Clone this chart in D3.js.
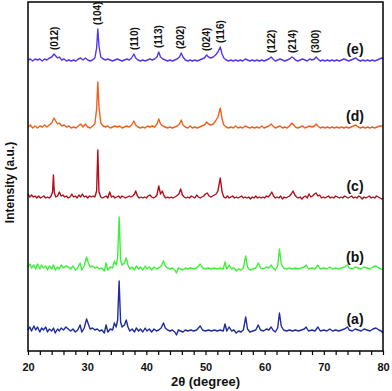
<!DOCTYPE html>
<html>
<head>
<meta charset="utf-8">
<script src="https://cdn.jsdelivr.net/npm/d3@7"></script>
<style>
  body { margin: 0; background: #fff; }
  text { font-family: Arial, "Liberation Sans", sans-serif; font-weight: bold; }
</style>
</head>
<body>
<svg width="392" height="391"></svg>
<script>
// 2theta / relative intensity pairs
const scanA = [[20,0],[20.3,3],[20.6,-1],[21,4],[21.3,0],[21.6,3],[22,-2],[22.3,2],[22.6,0],[23,3],[23.3,-2],[23.6,1],[24,-1],[24.3,2],[24.6,-3],[25,1],[25.3,-1],[25.6,2],[26,0],[26.4,3],[26.8,1],[27.2,-1],[27.6,1],[28,-2],[28.4,0],[28.8,5],[29.1,-2],[29.5,2],[29.9,11],[30.2,6],[30.5,1],[30.9,2],[31.3,0],[31.7,1],[32.1,-1],[32.5,0],[32.9,-3],[33.2,5],[33.5,-2],[33.9,1],[34.3,0],[34.6,7],[34.9,3],[35.15,10],[35.4,49],[35.65,8],[35.9,3],[36.3,5],[36.6,10],[36.9,3],[37.2,-1],[37.6,1],[38,-2],[38.3,2],[38.7,-1],[39,1],[39.4,-2],[39.8,2],[40.1,-1],[40.5,1],[40.9,-2],[41.3,1],[41.7,-1],[42.1,0],[42.5,2],[42.9,7],[43.2,2],[43.6,0],[44,-1],[44.4,0],[44.8,-2],[45.1,-5],[45.4,0],[45.8,-1],[46.2,-2],[46.6,0],[47,-1],[47.5,0],[48,-1],[48.5,0],[49.1,4],[49.5,0],[50,-1],[50.5,0],[51,-1],[51.5,0],[52,-1],[52.5,0],[53,-1],[53.3,6],[53.6,-1],[54,3],[54.4,-1],[54.8,0],[55.2,-3],[55.6,-1],[56,-2],[56.4,0],[56.8,13],[57.1,1],[57.5,-2],[58,-1],[58.5,0],[58.9,5],[59.3,0],[59.8,-1],[60.3,1],[60.7,0],[61.1,3],[61.4,0],[61.8,-2],[62.2,2],[62.5,17],[62.8,4],[63.2,0],[63.7,-1],[64.2,0],[64.7,-1],[65.2,0],[65.7,-1],[66.2,0],[66.7,1],[67,3],[67.4,-1],[68,0],[68.5,-1],[69,3],[69.4,-1],[70,0],[70.5,-1],[71,1],[71.5,-1],[72,0],[72.5,-1],[73,0],[73.5,1],[74,3],[74.3,0],[74.8,-1],[75.3,1],[75.8,0],[76.3,-1],[76.8,1],[77.3,0],[77.8,-1],[78.3,1],[78.8,2],[79.3,0],[79.7,-1],[80,-3]];

const scanB = [[20,1],[20.3,4],[20.6,0],[21,3],[21.3,-1],[21.6,4],[22,-1],[22.3,3],[22.6,0],[23,2],[23.3,-2],[23.6,2],[24,-1],[24.3,3],[24.6,-2],[25,1],[25.3,-1],[25.6,3],[26,0],[26.4,2],[26.8,1],[27.2,-1],[27.6,2],[28,-2],[28.4,0],[28.8,5],[29.1,-2],[29.5,2],[29.9,11],[30.2,5],[30.5,1],[30.9,2],[31.3,0],[31.7,1],[32.1,-1],[32.5,0],[32.9,-3],[33.2,5],[33.5,-2],[33.9,1],[34.3,0],[34.6,7],[34.9,3],[35.15,10],[35.4,51],[35.65,8],[35.9,3],[36.3,5],[36.6,10],[36.9,3],[37.2,-1],[37.6,1],[38,-2],[38.3,2],[38.7,-1],[39,1],[39.4,-2],[39.8,2],[40.1,-1],[40.5,1],[40.9,-2],[41.3,1],[41.7,-1],[42.1,0],[42.5,2],[42.9,7],[43.2,2],[43.6,0],[44,-1],[44.4,0],[44.8,-2],[45.1,-5],[45.4,0],[45.8,-1],[46.2,-2],[46.6,0],[47,-1],[47.5,0],[48,-1],[48.5,0],[49.1,4],[49.5,0],[50,-1],[50.5,0],[51,-1],[51.5,0],[52,-1],[52.5,0],[53,-1],[53.3,6],[53.6,-1],[54,3],[54.4,-1],[54.8,0],[55.2,-3],[55.6,-1],[56,-2],[56.4,0],[56.8,12],[57.1,1],[57.5,-2],[58,-1],[58.5,0],[58.9,5],[59.3,0],[59.8,-1],[60.3,1],[60.7,0],[61.1,3],[61.4,0],[61.8,-2],[62.2,2],[62.5,19],[62.8,4],[63.2,0],[63.7,-1],[64.2,0],[64.7,-1],[65.2,0],[65.7,-1],[66.2,0],[66.7,1],[67,3],[67.4,-1],[68,0],[68.5,-1],[69,3],[69.4,-1],[70,0],[70.5,-1],[71,1],[71.5,-1],[72,0],[72.5,-1],[73,0],[73.5,1],[74,3],[74.3,0],[74.8,-1],[75.3,1],[75.8,0],[76.3,-1],[76.8,1],[77.3,0],[77.8,-1],[78.3,1],[78.8,2],[79.3,0],[79.7,-1],[80,-2]];

const scanC = [[20,3],[20.3,0],[20.6,2],[20.9,0],[21.2,1],[21.5,-1],[21.8,1],[22.1,-1],[22.4,0],[22.7,1],[23,-1],[23.3,0],[23.6,-1],[23.9,1],[24.15,5],[24.3,22],[24.45,4],[24.7,0],[25,1],[25.3,5],[25.6,1],[25.9,2],[26.2,0],[26.5,1],[26.8,-1],[27.1,0],[27.4,3],[27.7,0],[28,1],[28.3,-1],[28.6,2],[28.9,0],[29.2,3],[29.5,0],[29.8,1],[30.1,-1],[30.4,1],[30.7,0],[31,1],[31.3,0],[31.6,6],[31.8,47],[32,5],[32.3,0],[32.6,-1],[32.9,0],[33.2,1],[33.5,-1],[33.8,5],[34.1,0],[34.4,1],[34.7,-1],[35,0],[35.3,1],[35.6,-1],[35.9,1],[36.2,0],[36.5,-1],[36.8,0],[37.1,1],[37.4,0],[37.7,1],[38,3],[38.2,6],[38.5,1],[38.8,-1],[39.1,0],[39.4,-1],[39.7,0],[40,-1],[40.3,1],[40.6,2],[40.9,0],[41.2,-1],[41.5,0],[41.8,2],[42.1,11],[42.4,3],[42.7,6],[43,1],[43.3,-1],[43.6,0],[43.9,-1],[44.2,0],[44.5,-1],[44.8,0],[45.1,1],[45.5,3],[45.8,8],[46.1,2],[46.4,0],[46.7,-1],[47,0],[47.3,-1],[47.6,1],[47.9,0],[48.2,-1],[48.5,2],[48.8,0],[49.1,-1],[49.4,0],[49.7,1],[50,3],[50.3,4],[50.6,1],[50.9,0],[51.2,1],[51.5,2],[51.8,3],[52.1,6],[52.5,19],[52.8,5],[53.1,0],[53.4,-1],[53.7,1],[54,-1],[54.3,0],[54.6,1],[54.9,-1],[55.2,0],[55.5,-1],[55.8,0],[56.1,1],[56.4,-1],[56.7,0],[57,-1],[57.3,0],[57.6,-2],[57.9,0],[58.2,-1],[58.5,1],[58.8,-1],[59.1,0],[59.4,-1],[59.7,0],[60,-1],[60.3,1],[60.6,0],[60.9,2],[61.2,5],[61.5,1],[61.8,-1],[62.1,0],[62.4,-1],[62.7,1],[63,-2],[63.3,0],[63.6,-1],[63.9,0],[64.2,1],[64.5,3],[64.8,6],[65.1,2],[65.4,0],[65.7,-1],[66,0],[66.3,-2],[66.6,0],[66.9,1],[67.2,-1],[67.5,3],[67.8,0],[68.1,1],[68.4,3],[68.7,4],[69,1],[69.3,2],[69.6,-1],[69.9,0],[70.2,-1],[70.5,0],[70.8,1],[71.1,-1],[71.4,0],[71.7,-1],[72,1],[72.3,0],[72.6,-1],[72.9,0],[73.2,-1],[73.5,1],[73.8,0],[74.1,-1],[74.4,0],[74.7,1],[75,-1],[75.3,0],[75.6,-1],[75.9,1],[76.2,0],[76.5,-2],[76.8,0],[77.1,-1],[77.4,0],[77.7,1],[78,-1],[78.3,0],[78.6,-1],[78.9,1],[79.2,0],[79.5,-1],[79.8,-2],[80,-1]];

const scanD = [[20,0],[20.4,2],[20.8,-1],[21.2,1],[21.6,-1],[22,1],[22.4,0],[22.8,2],[23.2,0],[23.6,2],[24,4],[24.4,9],[24.7,6],[25,3],[25.3,4],[25.7,1],[26.1,2],[26.5,0],[26.9,1],[27.3,-1],[27.7,0],[28.1,-1],[28.5,1],[28.9,3],[29.3,0],[29.7,3],[30.1,0],[30.5,-1],[30.9,1],[31.3,3],[31.6,18],[31.8,45],[32,20],[32.3,4],[32.7,1],[33.1,0],[33.5,1],[33.9,-1],[34.3,0],[34.7,1],[35.1,0],[35.5,1],[35.9,-1],[36.3,0],[36.7,1],[37.1,0],[37.5,2],[37.9,6],[38.2,2],[38.6,0],[39,-1],[39.4,0],[39.8,-1],[40.2,1],[40.6,0],[41,1],[41.4,0],[41.8,3],[42.1,8],[42.4,3],[42.8,1],[43.2,0],[43.6,-1],[44,0],[44.4,-1],[44.8,0],[45.2,1],[45.6,3],[45.9,7],[46.2,2],[46.6,0],[47,-1],[47.4,1],[47.8,-1],[48.2,0],[48.6,-1],[49,0],[49.4,1],[49.8,2],[50.2,5],[50.5,3],[50.9,2],[51.3,3],[51.7,6],[52.1,10],[52.5,19],[52.8,8],[53.1,2],[53.5,0],[53.9,-1],[54.3,0],[54.7,-1],[55.1,1],[55.5,-1],[55.9,0],[56.3,-1],[56.7,1],[57.1,0],[57.5,-1],[57.9,0],[58.3,-1],[58.7,0],[59.1,-1],[59.5,1],[59.9,-1],[60.3,0],[60.7,1],[61.1,3],[61.4,1],[61.8,-1],[62.2,0],[62.6,1],[63,-1],[63.4,0],[63.8,-1],[64.2,1],[64.6,4],[64.9,2],[65.2,0],[65.6,-1],[66,0],[66.4,1],[66.8,-1],[67.2,0],[67.6,1],[68,0],[68.4,1],[68.7,3],[69,1],[69.4,-1],[69.8,0],[70.2,-1],[70.6,0],[71,-1],[71.4,0],[71.8,-1],[72.2,0],[72.6,-1],[73,0],[73.4,-1],[73.8,0],[74.2,-1],[74.6,0],[75,1],[75.4,2],[75.8,0],[76.2,-1],[76.6,0],[77,-1],[77.4,0],[77.8,-1],[78.2,0],[78.6,-1],[79,0],[79.4,1],[79.8,1],[80,1]];

const scanE = [[20,0],[20.4,1],[20.8,-1],[21.2,1],[21.6,0],[22,1],[22.4,-1],[22.8,1],[23.2,0],[23.6,2],[24,3],[24.4,6],[24.7,4],[25,2],[25.3,3],[25.7,0],[26.1,1],[26.5,-1],[26.9,0],[27.3,-1],[27.7,0],[28.1,-1],[28.5,1],[28.9,2],[29.3,0],[29.7,2],[30.1,0],[30.5,-1],[30.9,0],[31.3,2],[31.6,12],[31.8,31],[32,14],[32.3,3],[32.7,1],[33.1,0],[33.5,1],[33.9,0],[34.3,-1],[34.7,0],[35.1,1],[35.5,0],[35.9,-1],[36.3,0],[36.7,1],[37.1,0],[37.5,2],[37.9,6],[38.2,2],[38.6,0],[39,-1],[39.4,0],[39.8,-1],[40.2,0],[40.6,1],[41,0],[41.4,1],[41.8,3],[42.1,8],[42.4,3],[42.8,1],[43.2,0],[43.6,-1],[44,0],[44.4,-1],[44.8,0],[45.2,1],[45.6,3],[45.9,7],[46.2,3],[46.6,0],[47,-1],[47.4,0],[47.8,-1],[48.2,0],[48.6,-1],[49,0],[49.4,1],[49.8,2],[50.2,5],[50.5,3],[50.9,2],[51.3,3],[51.7,5],[52.1,8],[52.5,13],[52.8,6],[53.1,2],[53.5,0],[53.9,-1],[54.3,0],[54.7,-1],[55.1,0],[55.5,-1],[55.9,0],[56.3,-1],[56.7,1],[57.1,0],[57.5,-1],[57.9,0],[58.3,-1],[58.7,0],[59.1,-1],[59.5,0],[59.9,-1],[60.3,0],[60.7,1],[61.1,3],[61.4,1],[61.8,-1],[62.2,0],[62.6,1],[63,0],[63.4,-1],[63.8,0],[64.2,1],[64.6,3],[64.9,2],[65.2,0],[65.6,-1],[66,0],[66.4,1],[66.8,0],[67.2,-1],[67.6,1],[68,0],[68.4,1],[68.7,3],[69,1],[69.4,-1],[69.8,0],[70.2,-1],[70.6,0],[71,-1],[71.4,0],[71.8,-1],[72.2,0],[72.6,-1],[73,0],[73.4,1],[73.8,0],[74.2,-1],[74.6,0],[75,1],[75.4,2],[75.8,0],[76.2,-1],[76.6,0],[77,-1],[77.4,0],[77.8,-1],[78.2,0],[78.6,-1],[79,0],[79.4,1],[79.8,2],[80,1]];

const sampleNames = ['(a)', '(b)', '(c)', '(d)', '(e)'];
const sampleOffsets = [21, 83, 154, 224, 291];
const sampleColors = ['#1f2c9c', '#3ef03a', '#b0101c', '#f0601e', '#5836ec'];

const hklNames = ['(012)', '(104)', '(110)', '(113)', '(202)', '(024)', '(116)', '(122)', '(214)', '(300)'];
const hklTheta = [24.5, 31.8, 38.0, 42.1, 45.8, 50.2, 52.6, 61.2, 64.7, 68.6];

const xTicks = [20, 30, 40, 50, 60, 70, 80];

const scans = [scanA, scanB, scanC, scanD, scanE];

const svg = d3.select('svg');
const plotL = 28, plotR = 383, plotT = 2, plotB = 351;

const x = d3.scaleLinear().domain([20, 80]).range([plotL, plotR]);
const y = d3.scaleLinear().domain([0, plotB - plotT]).range([plotB, plotT]);

const line = d3.line()
  .x(d => x(d[0]))
  .y(d => y(d[1]));

const traces = svg.append('g');
scans.forEach((scan, i) => {
  const off = sampleOffsets[i];
  traces.append('path')
    .datum(scan.map(p => [p[0], p[1] + off]))
    .attr('fill', 'none')
    .attr('stroke', sampleColors[i])
    .attr('stroke-width', 1.4)
    .attr('stroke-linejoin', 'round')
    .attr('d', line);

  svg.append('text')
    .attr('x', 355)
    .attr('y', y(off) - 10)
    .attr('text-anchor', 'middle')
    .attr('dominant-baseline', 'middle')
    .attr('font-size', 14)
    .attr('fill', '#111')
    .text(sampleNames[i]);
});

// hkl labels above the top scan
const eOff = sampleOffsets[4];
hklNames.forEach((name, i) => {
  const t = hklTheta[i];
  const near = scanE.filter(p => Math.abs(p[0] - t) <= 0.5);
  const peak = d3.max(near, p => p[1]);
  const yEnd = Math.min(y(eOff + peak) - 4, 55);
  svg.append('text')
    .attr('transform', `translate(${x(t)},${yEnd}) rotate(-90)`)
    .attr('text-anchor', 'start')
    .attr('dominant-baseline', 'central')
    .attr('font-size', 10)
    .attr('fill', '#111')
    .text(name);
});

// frame
svg.append('rect')
  .attr('x', plotL).attr('y', plotT)
  .attr('width', plotR - plotL).attr('height', plotB - plotT)
  .attr('fill', 'none')
  .attr('stroke', '#000')
  .attr('stroke-width', 1.5);

// bottom axis
const xAxis = d3.axisBottom(x)
  .tickValues(d3.range(20, 81, 2))
  .tickSize(4)
  .tickFormat(d => xTicks.includes(d) ? d : '');
const ax = svg.append('g')
  .attr('transform', `translate(0,${plotB})`)
  .call(xAxis);
ax.select('.domain').remove();
ax.selectAll('.tick line').attr('stroke', '#000').attr('stroke-width', 1.2);
ax.selectAll('.tick text')
  .attr('font-size', 11)
  .attr('font-family', 'Arial, "Liberation Sans", sans-serif')
  .attr('font-weight', 'bold')
  .attr('fill', '#111')
  .attr('dy', '1.2em');

svg.append('text')
  .attr('x', (plotL + plotR) / 2)
  .attr('y', 383)
  .attr('text-anchor', 'middle')
  .attr('dominant-baseline', 'middle')
  .attr('font-size', 13)
  .attr('fill', '#111')
  .text('2θ (degree)');

svg.append('text')
  .attr('transform', `translate(11,${(plotT + plotB) / 2 + 6}) rotate(-90)`)
  .attr('text-anchor', 'middle')
  .attr('dominant-baseline', 'middle')
  .attr('font-size', 12)
  .attr('fill', '#111')
  .text('Intensity (a.u.)');
</script>
</body>
</html>
